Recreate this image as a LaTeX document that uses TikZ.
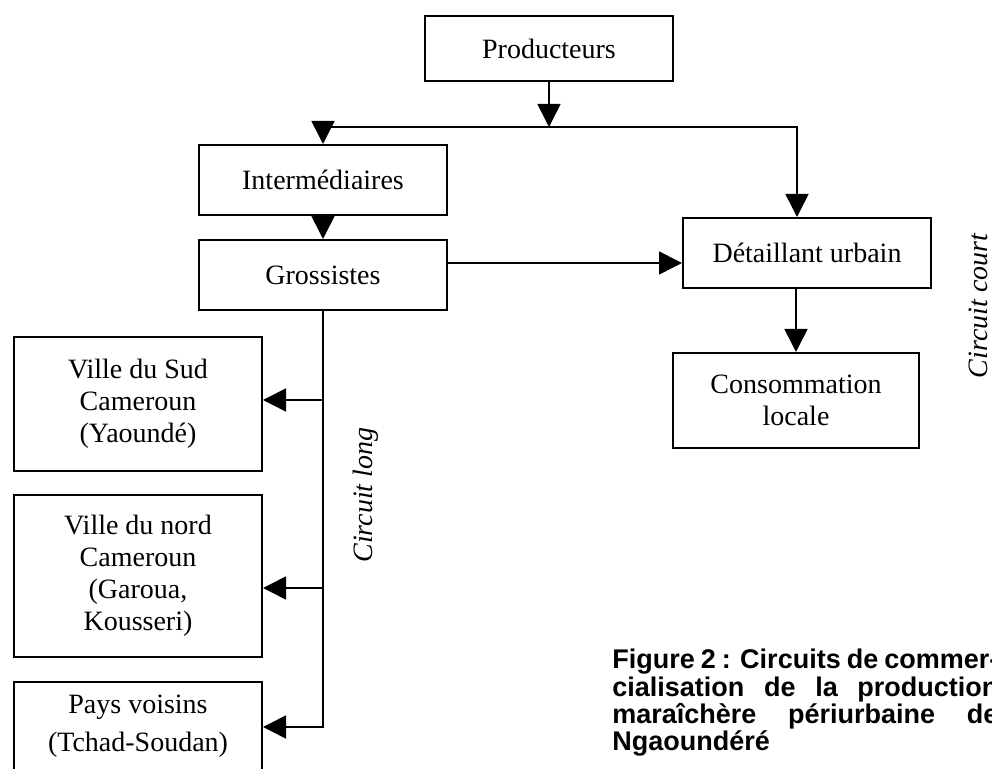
\documentclass[tikz,border=0pt]{standalone}
\usepackage{fontspec}
\setmainfont{Liberation Serif}
\setsansfont{Liberation Sans}
\usetikzlibrary{positioning, arrows.meta}
\tikzset{
    box/.style={draw, line width=1pt, minimum width=124pt, minimum height=35pt, align=center, font=\fontsize{14}{16}\selectfont},
    line/.style={line width=0.8pt},
    arrow/.style={line, -{Triangle[length=11.5pt, width=11.5pt]}},
    circuit label/.style={rotate=90, font=\itshape\fontsize{14}{16}\selectfont},
    caption style/.style={anchor=north west, inner sep=0pt, font=\sffamily\bfseries\fontsize{13.5}{13.65}\selectfont}
}

\begin{document}
\begin{tikzpicture}[x=0.5pt, y=-0.5pt]
    \useasboundingbox (0,0) rectangle (992,769);

    % --- Boxes ---
    \node (prod) [box, minimum height=32.5pt] at (549,48.5) {Producteurs};
    \node (inter) [box] at (323,180) {Intermédiaires};
    \node (gross) [box, below=11.5pt of inter] {Grossistes};
    \node (detail) [box] at (807,253) {Détaillant urbain};
    \node (cons) [box, minimum width=123pt, minimum height=47.5pt] at (796,400.5) {Consommation\\locale};
    \node (sud) [box, minimum height=67pt] at (138,404) {Ville du Sud\\Cameroun\\(Yaoundé)};
    \node (nord) [box, minimum height=81pt] at (138,576) {Ville du nord\\Cameroun\\(Garoua,\\Kousseri)};
    \node (pays) [box, anchor=north, text depth=40pt] at (138,681) {\rule{0pt}{12.5pt}Pays voisins\\[3pt](Tchad-Soudan)};

    % --- Labels ---
    \node (long) [circuit label] at (366,495) {Circuit long};
    \node (court) [circuit label] at (978,306) {Circuit court};
    \node (caption) [caption style] at (612,649) {\parbox[t]{193pt}{\tolerance=9999
        Figure 2 : Circuits de commer-\linebreak cialisation de la production\linebreak
        maraîchère périurbaine de\linebreak Ngaoundéré}};

    % --- Junctions ---
    \coordinate (barL) at (323,127);
    \coordinate (barR) at (797,127);
    \coordinate (tS) at (323,400);
    \coordinate (tN) at (323,588);
    \coordinate (tP) at (323,727);

    % --- Connectors ---
    \draw[arrow] (prod.south) -- (prod.south |- barL);
    \draw[arrow] (barL) -- (barR) -- (barR |- detail.north);
    \draw[arrow] (barL) -- (inter.north);
    \draw[arrow] (inter.south) -- (gross.north);
    \draw[arrow] ([yshift=6pt]gross.east) -- ([yshift=6pt]gross.east -| detail.west);
    \draw[arrow] (cons.north |- detail.south) -- (cons.north);
    \draw[arrow] (gross.south) -- (tP) -- (tP -| pays.east);
    \draw[arrow] (tS) -- (tS -| sud.east);
    \draw[arrow] (tN) -- (tN -| nord.east);
\end{tikzpicture}
\end{document}
